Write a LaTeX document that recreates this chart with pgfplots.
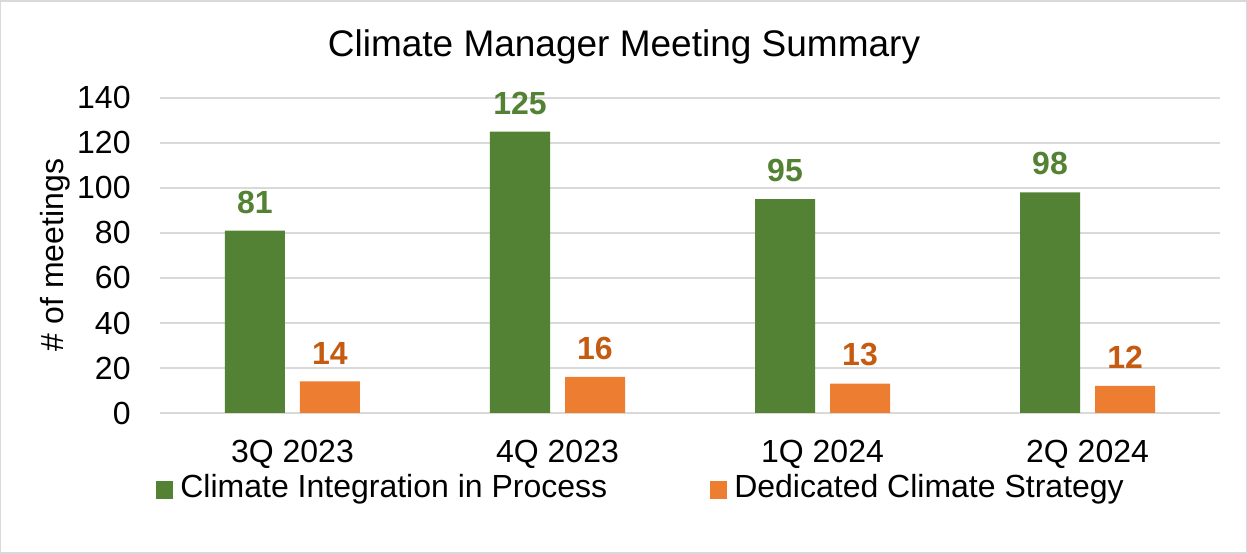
\documentclass[border=0pt]{standalone}
\usepackage{pgfplots}
\pgfplotsset{compat=1.18}
\usepackage{fontspec}
\setmainfont{Liberation Sans}
\definecolor{cgreen}{HTML}{548235}
\definecolor{corange}{HTML}{ED7D31}
\definecolor{corangetxt}{HTML}{C55A11}
\definecolor{cgrid}{HTML}{D9D9D9}
\begin{document}
\begin{tikzpicture}
\draw[draw=cgrid, line width=0.75pt] (0.4pt,0.4pt) rectangle (623.1pt,276.6pt);
\begin{axis}[
  at={(80pt,70.5pt)}, anchor=south west,
  scale only axis, width=530pt, height=157.5pt,
  ybar, bar width=30pt,
  xmin=-0.5, xmax=3.5, ymin=0, ymax=140,
  ytick={0,20,...,140},
  xtick={0,1,2,3},
  xticklabels={3Q 2023,4Q 2023,1Q 2024,2Q 2024},
  axis x line*=bottom, axis y line*=left,
  x axis line style={draw=cgrid, line width=0.75pt, -},
  y axis line style={draw=none},
  ymajorgrids, grid style={draw=cgrid, line width=0.75pt},
  major tick length=0pt,
  tick label style={font=\fontsize{16}{19}\selectfont},
  /pgf/number format/assume math mode=true,
  yticklabel style={anchor=east, inner sep=0pt, xshift=-14.5pt},
  xticklabel style={anchor=north, inner sep=0pt, yshift=-13.5pt},
  nodes near coords,
  every node near coord/.append style={font=\fontsize{16}{19}\selectfont\bfseries, anchor=south, inner sep=0pt, yshift=8.5pt},
  legend columns=2,
  legend style={at={(-2pt,-37pt)}, anchor=west, draw=none, fill=none, inner sep=0pt,
    nodes={inner sep=0pt, font=\fontsize{16}{19}\selectfont},
    /tikz/every odd column/.append style={column sep=3.5pt},
    /tikz/every even column/.append style={column sep=51.5pt}},
  legend image code/.code={\fill[#1] (0pt,-5.75pt) rectangle (8.5pt,2.75pt);},
]
\addplot[fill=cgreen, draw=none, bar shift=-18.75pt, every node near coord/.append style={text=cgreen}]
  coordinates {(0,81) (1,125) (2,95) (3,98)};
\addplot[fill=corange, draw=none, bar shift=18.75pt, every node near coord/.append style={text=corangetxt}]
  coordinates {(0,14) (1,16) (2,13) (3,12)};
\legend{Climate Integration in Process, Dedicated Climate Strategy}
\end{axis}
\node[font=\fontsize{18.5}{22}\selectfont, anchor=center] at (312pt,253.5pt) {Climate Manager Meeting Summary};
\node[font=\fontsize{16}{19}\selectfont, rotate=90, anchor=center] at (27.5pt,149.5pt) {\# of meetings};
\end{tikzpicture}
\end{document}
